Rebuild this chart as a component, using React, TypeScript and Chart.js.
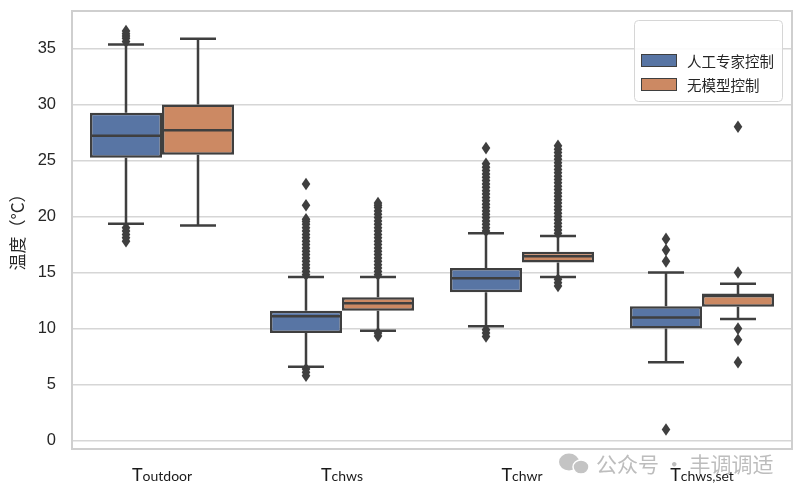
import React, { useEffect, useRef } from 'react';
import { Chart, registerables } from 'chart.js';

Chart.register(...registerables);

// ---------- data ----------
const categories = ['Toutdoor', 'Tchws', 'Tchwr', 'Tchws,set'];
const seriesNames = ['人工专家控制', '无模型控制'];
const yTicks = [0, 5, 10, 15, 20, 25, 30, 35];
const yTitle = '温度（°C）';
const watermark = '公众号 · 丰调调适';

// 人工专家控制
const expertQ1 = [25.25, 9.6, 13.25, 10.0];
const expertMedian = [27.2, 11.1, 14.5, 11.0];
const expertQ3 = [29.25, 11.6, 15.4, 12.0];
const expertLow = [19.35, 6.6, 10.2, 7.0];
const expertHigh = [35.35, 14.6, 18.5, 15.0];
const expertOutliers = [
  [35.6, 35.9, 36.1, 36.3, 36.55, 19.0, 18.7, 18.4, 18.1, 17.8],
  [6.4, 6.1, 5.8, 14.8, 15.1, 15.4, 15.7, 16.0, 16.3, 16.6, 16.9, 17.2, 17.5, 17.8, 18.1, 18.4, 18.7, 19.0, 19.3, 19.55, 19.75, 21.0, 22.9],
  [9.9, 9.6, 9.3, 18.7, 19.0, 19.3, 19.6, 19.9, 20.2, 20.5, 20.8, 21.1, 21.4, 21.7, 22.0, 22.3, 22.6, 22.9, 23.2, 23.5, 23.8, 24.1, 24.4, 24.7, 26.1],
  [1.0, 16.0, 17.0, 18.0],
];

// 无模型控制
const modelQ1 = [25.5, 11.6, 15.9, 11.95];
const modelMedian = [27.7, 12.25, 16.45, 13.0];
const modelQ3 = [30.0, 12.8, 16.85, 13.0];
const modelLow = [19.2, 9.8, 14.6, 10.85];
const modelHigh = [35.85, 14.6, 18.25, 14.0];
const modelOutliers = [
  [],
  [9.6, 9.35, 14.8, 15.1, 15.4, 15.7, 16.0, 16.3, 16.6, 16.9, 17.2, 17.5, 17.8, 18.1, 18.4, 18.7, 19.0, 19.3, 19.6, 19.9, 20.2, 20.5, 20.8, 21.0, 21.2],
  [14.4, 14.1, 13.8, 18.5, 18.8, 19.1, 19.4, 19.7, 20.0, 20.3, 20.6, 20.9, 21.2, 21.5, 21.8, 22.1, 22.4, 22.7, 23.0, 23.3, 23.6, 23.9, 24.2, 24.5, 24.8, 25.1, 25.4, 25.7, 26.0, 26.3],
  [28.0, 15.0, 10.0, 9.0, 7.0],
];

// ---------- styles ----------
const BLUE = '#5875a4';
const ORANGE = '#cc8963';
const EDGE = '#3f3f3f';
const GRID = '#d6d6d6';

const series = [
  { q1: expertQ1, med: expertMedian, q3: expertQ3, low: expertLow, high: expertHigh, out: expertOutliers },
  { q1: modelQ1, med: modelMedian, q3: modelQ3, low: modelLow, high: modelHigh, out: modelOutliers },
];

const extrasPlugin = {
  id: 'boxExtras',
  beforeDatasetsDraw(chart: any) {
    const ctx = chart.ctx;
    // watermark icon
    ctx.save();
    ctx.fillStyle = '#c4c4c4';
    ctx.beginPath();
    ctx.ellipse(569, 462, 10, 8.5, 0, 0, Math.PI * 2);
    ctx.fill();
    ctx.beginPath();
    ctx.ellipse(581, 467, 8, 7, 0, 0, Math.PI * 2);
    ctx.fill();
    ctx.strokeStyle = '#ffffff';
    ctx.lineWidth = 1.5;
    ctx.stroke();
    ctx.restore();
  },
  afterDatasetsDraw(chart: any) {
    const ctx = chart.ctx;
    const y = chart.scales.y;
    ctx.save();
    series.forEach((s, di) => {
      const meta = chart.getDatasetMeta(di);
      meta.data.forEach((bar: any, i: number) => {
        const { x, width } = bar.getProps(['x', 'width'], true);
        ctx.strokeStyle = EDGE;
        ctx.lineWidth = 2.5;
        ctx.lineCap = 'butt';
        ctx.beginPath();
        ctx.moveTo(x, y.getPixelForValue(s.q1[i]));
        ctx.lineTo(x, y.getPixelForValue(s.low[i]));
        ctx.moveTo(x, y.getPixelForValue(s.q3[i]));
        ctx.lineTo(x, y.getPixelForValue(s.high[i]));
        const cw = width / 4;
        ctx.moveTo(x - cw, y.getPixelForValue(s.low[i]));
        ctx.lineTo(x + cw, y.getPixelForValue(s.low[i]));
        ctx.moveTo(x - cw, y.getPixelForValue(s.high[i]));
        ctx.lineTo(x + cw, y.getPixelForValue(s.high[i]));
        const ym = y.getPixelForValue(s.med[i]);
        ctx.moveTo(x - width / 2, ym);
        ctx.lineTo(x + width / 2, ym);
        ctx.stroke();
        ctx.fillStyle = EDGE;
        s.out[i].forEach((v: number) => {
          const py = y.getPixelForValue(v);
          ctx.beginPath();
          ctx.moveTo(x, py - 6.3);
          ctx.lineTo(x + 4.3, py);
          ctx.lineTo(x, py + 6.3);
          ctx.lineTo(x - 4.3, py);
          ctx.closePath();
          ctx.fill();
        });
      });
    });
    ctx.restore();
  },
  afterDraw(chart: any) {
    const ctx = chart.ctx;
    const a = chart.chartArea;
    const xs = chart.scales.x;
    ctx.save();
    ctx.strokeStyle = '#cfcfcf';
    ctx.lineWidth = 2;
    ctx.strokeRect(a.left, a.top, a.right - a.left, a.bottom - a.top);

    ctx.fillStyle = '#bdbdbd';
    ctx.font = '21px "Noto Sans CJK SC"';
    ctx.textBaseline = 'alphabetic';
    ctx.textAlign = 'left';
    ctx.fillText(watermark, 596, 472);

    ctx.fillStyle = '#1a1a1a';
    categories.forEach((c, i) => {
      const cx = xs.getPixelForValue(i);
      const head = c.slice(0, 1);
      const tail = c.slice(1);
      ctx.font = '18px Lato';
      const wh = ctx.measureText(head).width;
      ctx.font = '14px Lato';
      const wt = ctx.measureText(tail).width;
      const x0 = cx - (wh + wt) / 2;
      ctx.font = '18px Lato';
      ctx.fillText(head, x0, 481);
      ctx.font = '14px Lato';
      ctx.fillText(tail, x0 + wh, 481);
    });

    ctx.save();
    ctx.translate(18, 228);
    ctx.rotate(-Math.PI / 2);
    ctx.textAlign = 'center';
    ctx.textBaseline = 'middle';
    ctx.font = '17px "Noto Sans CJK SC"';
    ctx.fillStyle = '#262626';
    ctx.fillText(yTitle, 0, 0);
    ctx.restore();

    const lx = 634.5, ly = 20.5, lw = 148, lh = 81;
    ctx.beginPath();
    ctx.roundRect(lx, ly, lw, lh, 4);
    ctx.fillStyle = 'rgba(255,255,255,0.9)';
    ctx.fill();
    ctx.strokeStyle = '#d6d6d6';
    ctx.lineWidth = 1;
    ctx.stroke();
    chart.data.datasets.forEach((ds: any, i: number) => {
      const py = 54 + i * 24;
      ctx.fillStyle = ds.backgroundColor;
      ctx.fillRect(641, py, 36, 13);
      ctx.strokeStyle = EDGE;
      ctx.lineWidth = 1;
      ctx.strokeRect(641.5, py + 0.5, 35, 12);
      ctx.fillStyle = '#262626';
      ctx.font = '14.5px "Noto Sans CJK SC"';
      ctx.textBaseline = 'middle';
      ctx.textAlign = 'left';
      ctx.fillText(ds.label, 687, py + 7);
    });
    ctx.restore();
  },
};

export default function App() {
  const ref = useRef<HTMLCanvasElement | null>(null);
  useEffect(() => {
    if (!ref.current) return;
    const chart = new Chart(ref.current, {
      type: 'bar',
      data: {
        labels: categories,
        datasets: [
          {
            label: seriesNames[0],
            data: expertQ1.map((v, i) => [v, expertQ3[i]]) as any,
            backgroundColor: BLUE,
            borderColor: EDGE,
            borderWidth: 2.5,
            borderSkipped: false,
            categoryPercentage: 0.8,
            barPercentage: 1,
          },
          {
            label: seriesNames[1],
            data: modelQ1.map((v, i) => [v, modelQ3[i]]) as any,
            backgroundColor: ORANGE,
            borderColor: EDGE,
            borderWidth: 2.5,
            borderSkipped: false,
            categoryPercentage: 0.8,
            barPercentage: 1,
          },
        ],
      },
      options: {
        animation: false,
        responsive: false,
        layout: { padding: { top: 11, right: 10, left: 0, bottom: 0 } },
        plugins: { legend: { display: false }, tooltip: { enabled: false } },
        scales: {
          x: {
            grid: { display: false },
            border: { display: false },
            ticks: { display: false },
            afterFit: (s: any) => { s.height = 48; s.paddingLeft = 0; s.paddingRight = 0; },
          },
          y: {
            min: -0.74,
            max: 38.33,
            afterBuildTicks: (s: any) => { s.ticks = yTicks.map((v) => ({ value: v })); },
            ticks: {
              font: { family: '"Liberation Sans", Arial, sans-serif', size: 16.5 },
              color: '#262626',
              padding: 16,
            },
            grid: { color: GRID, lineWidth: 1.5, drawTicks: false },
            border: { display: false },
            afterFit: (s: any) => { s.width = 72; s.paddingTop = 0; s.paddingBottom = 0; },
          },
        },
      } as any,
      plugins: [extrasPlugin],
    });
    return () => chart.destroy();
  }, []);
  return (
    <div style={{ position: 'fixed', left: 0, top: 0, width: 802, height: 497, background: '#fff' }}>
      <canvas ref={ref} width={802} height={497} style={{ display: 'block', width: 802, height: 497 }} />
    </div>
  );
}
